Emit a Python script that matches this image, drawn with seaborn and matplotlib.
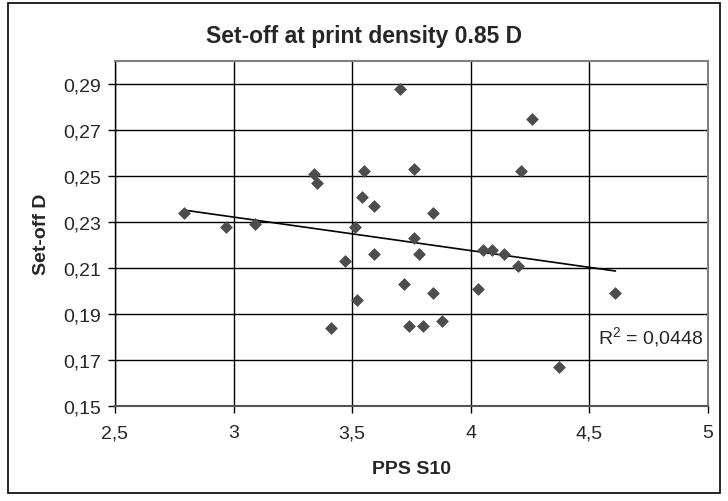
import numpy as np
import pandas as pd
import matplotlib
matplotlib.use("Agg")
import matplotlib.pyplot as plt
import seaborn as sns
from matplotlib.ticker import FuncFormatter, MultipleLocator
from matplotlib.patches import Rectangle

# PPS S10 vs set-off
pps = [2.79, 2.97, 3.09, 3.70, 3.34, 3.35, 3.55, 3.76, 3.54, 3.59, 3.84, 3.51,
       3.76, 3.59, 3.78, 4.05, 4.26, 4.21, 4.09, 4.14, 3.47, 3.52, 3.41, 3.72,
       3.84, 3.74, 3.80, 3.88, 4.03, 4.20, 4.61, 4.37]
setoff = [0.234, 0.228, 0.229, 0.288, 0.251, 0.247, 0.252, 0.253, 0.241, 0.237,
          0.234, 0.228, 0.223, 0.216, 0.216, 0.218, 0.275, 0.252, 0.218, 0.216,
          0.213, 0.196, 0.184, 0.203, 0.199, 0.185, 0.185, 0.187, 0.201, 0.211,
          0.199, 0.167]
r2_label = "R$^2$ = 0,0448"

df = pd.DataFrame({"pps": pps, "setoff": setoff})

sns.set_style("white")
plt.rcParams["font.family"] = ["Liberation Sans", "DejaVu Sans"]
plt.rcParams["mathtext.fontset"] = "custom"
plt.rcParams["mathtext.rm"] = "Liberation Sans"

fig = plt.figure(figsize=(7.28, 5.02), dpi=100)
ax = fig.add_axes([115 / 728, 1 - 407 / 502, 593 / 728, 345 / 502])

sns.regplot(data=df, x="pps", y="setoff", ci=None, ax=ax,
            marker="D",
            scatter_kws={"s": 36, "color": "#4d4d4d", "edgecolor": "#4d4d4d",
                         "linewidths": 0.5, "zorder": 3, "alpha": 1},
            line_kws={"color": "black", "lw": 1.2, "zorder": 2})

ax.set_xlim(2.5, 5)
ax.set_ylim(0.15, 0.30)
ax.xaxis.set_major_locator(MultipleLocator(0.5))
ax.set_yticks(np.arange(0.15, 0.2901, 0.02))

ax.xaxis.set_major_formatter(FuncFormatter(lambda v, p: f"{v:g}".replace(".", ",")))
ax.yaxis.set_major_formatter(FuncFormatter(lambda v, p: f"{v:.2f}".replace(".", ",")))

ax.grid(True, color="black", lw=1.0)
ax.set_axisbelow(True)
for side in ["top", "right"]:
    ax.spines[side].set_color("#808080")
    ax.spines[side].set_linewidth(1.5)
ax.spines["left"].set_color("black")
ax.spines["left"].set_linewidth(1.0)
ax.spines["bottom"].set_color("#555555")
ax.spines["bottom"].set_linewidth(1.5)

ax.tick_params(axis="both", direction="out", length=5, width=1, color="black",
               labelsize=14, left=True, bottom=True)
ax.tick_params(axis="y", pad=5)
ax.tick_params(axis="x", pad=8)

ax.set_xlabel("PPS S10", fontsize=14, fontweight="bold", va="center")
ax.set_ylabel("Set-off D", fontsize=14, fontweight="bold", va="center")
ax.xaxis.set_label_coords(0.5, -(470 - 407) / 345)
ax.yaxis.set_label_coords(-(115 - 42) / 593, 0.5)

fig.text(364 / 728, 1 - 37 / 502, "Set-off at print density 0.85 D",
         fontsize=16.5, fontweight="bold", ha="center", va="center")

ax.text(4.535, 0.180, r2_label, fontsize=14, va="center", ha="left")

fig.patches.append(Rectangle((8 / 728, 1 - 494 / 502), 712 / 728, 490 / 502,
                             transform=fig.transFigure, fill=False,
                             edgecolor="black", lw=1.2))

fig.savefig("out.png", dpi=100)
